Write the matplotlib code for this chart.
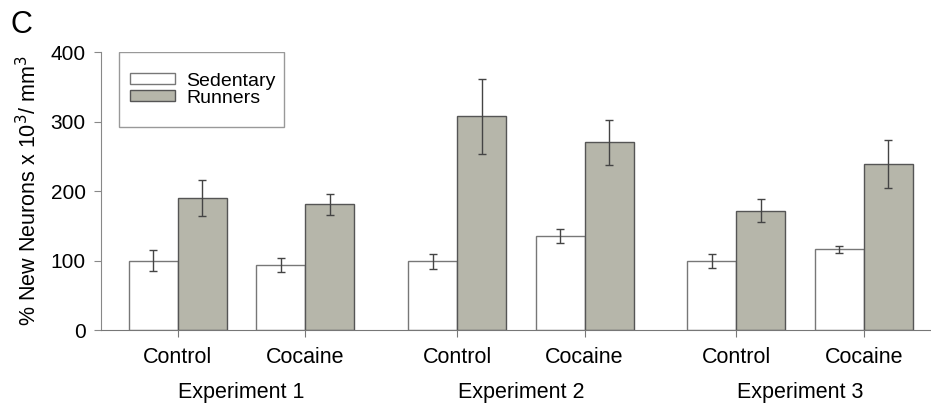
import numpy as np
import matplotlib.pyplot as plt
from matplotlib.patches import Rectangle

plt.rcParams['font.family'] = ['Liberation Sans', 'DejaVu Sans']

# Neurogenesis data, three experiments x (control, cocaine)
experiments = ['Experiment 1', 'Experiment 2', 'Experiment 3']
conditions = ['Control', 'Cocaine']

sedentary = [100, 93, 99, 136, 99, 116]
sedentary_err = [15, 10, 11, 10, 10, 5]
runners = [190, 181, 308, 270, 172, 239]
runners_err = [26, 15, 54, 32, 16, 35]

bar_width = 1.0
pair_gap = 2.6
exp_gap = 5.7

# group centre = boundary between the sedentary and runner bars
pos = np.array([e * exp_gap + c * pair_gap
                for e in range(len(experiments)) for c in range(len(conditions))])

fig = plt.figure(figsize=(9.31, 4.11), dpi=100)
ax = fig.add_axes([0.1085, 0.197, 0.8915, 0.676])

err_kw = dict(ecolor='#444444', elinewidth=1.0, capsize=3, capthick=1.0)
ax.bar(pos - bar_width / 2, sedentary, width=bar_width, color='white',
       edgecolor='#777777', linewidth=1.0, yerr=sedentary_err,
       error_kw=err_kw, label='Sedentary')
ax.bar(pos + bar_width / 2, runners, width=bar_width, color='#b6b6aa',
       edgecolor='#555555', linewidth=1.0, yerr=runners_err,
       error_kw=err_kw, label='Runners')

ax.set_ylim(0, 400)
ax.set_yticks([0, 100, 200, 300, 400])
ax.set_xlim(-1.57, 15.37)
ax.set_xticks(pos)
ax.set_xticklabels(conditions * len(experiments))

ax.spines['top'].set_visible(False)
ax.spines['right'].set_visible(False)
ax.spines['left'].set_color('#888888')
ax.spines['bottom'].set_color('#777777')
ax.tick_params(axis='y', direction='out', length=5, color='#888888',
               labelsize=15, pad=6)
ax.tick_params(axis='x', direction='out', length=5, color='#777777',
               labelsize=15.5, pad=7)

# experiment names under each pair
for e, name in enumerate(experiments):
    xc = (pos[2 * e] + pos[2 * e + 1]) / 2
    ax.text(xc, -0.225, name, transform=ax.get_xaxis_transform(),
            ha='center', va='center', fontsize=15.5)

ax.set_ylabel('% New Neurons x 10$^3$/ mm$^3$', fontsize=15.5, labelpad=7)

# legend box drawn separately so the padding can be uneven
ax.add_patch(Rectangle((0.0217, 0.730), 0.199, 0.27, transform=ax.transAxes,
                       facecolor='white', edgecolor='#999999', linewidth=1.0,
                       zorder=4))
leg = ax.legend(loc='center left', bbox_to_anchor=(0.035, 0.865), fontsize=14,
                frameon=False, handlelength=2.3, handleheight=0.5,
                handletextpad=0.6, labelspacing=0.0, borderpad=0,
                borderaxespad=0)
leg.set_zorder(5)

fig.text(0.011, 0.94, 'C', fontsize=22, ha='left', va='center')

fig.savefig('out.png', dpi=100)
